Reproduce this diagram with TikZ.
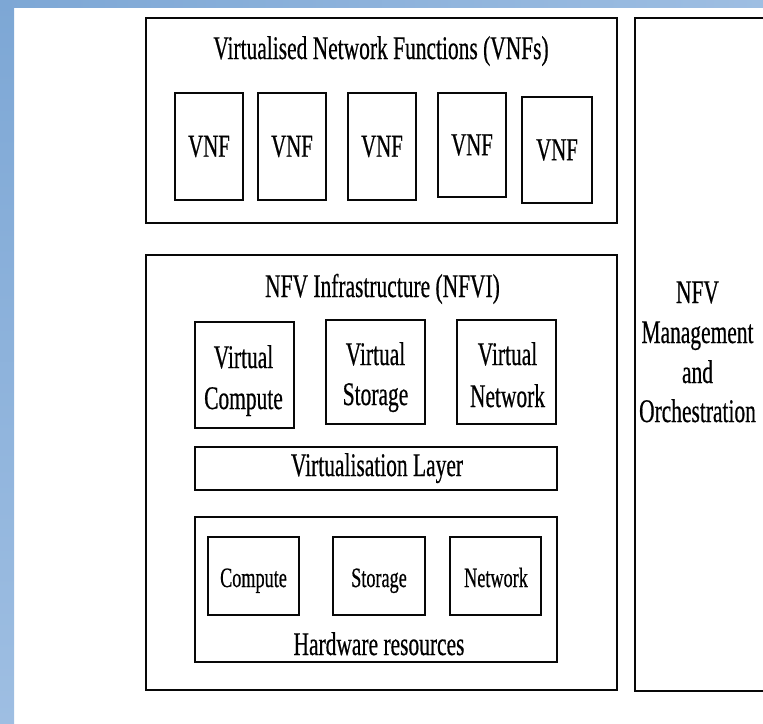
\documentclass[tikz,border=0pt]{standalone}
\usepackage{fontspec}
\setmainfont[FakeStretch=0.65,FakeBold=0.5]{Liberation Serif}
\definecolor{bgdark}{RGB}{125,167,213}
\definecolor{bglight}{RGB}{158,190,226}
\definecolor{linecol}{RGB}{8,8,8}
\begin{document}
\begin{tikzpicture}[x=1pt,y=-1pt,
  box/.style={draw=linecol, line width=2.4pt, inner sep=0pt, fill=white},
  outer/.style={box, line width=2.8pt},
  txt/.style={inner sep=0pt, anchor=base, font=\fontsize{33}{40}\selectfont},
  smalltxt/.style={txt, font=\fontsize{28}{34}\selectfont}]
\useasboundingbox (0,0) rectangle (763,723);
% background frame
\fill[top color=bgdark, bottom color=bglight] (0,0) rectangle (14,723);
\fill[left color=bgdark, right color=bglight] (0,0) rectangle (763,7);
% VNFs
\node[outer, minimum width=471pt, minimum height=205pt] (vnfs) at (381.5,120.5) {};
\node[txt] (vnfst) at (381,59) {Virtualised Network Functions (VNFs)};
\node[box, minimum width=68pt, minimum height=107pt, font=\fontsize{32}{38}\selectfont] (vnf1) at (209,146.5) {VNF};
\node[box, minimum width=68pt, minimum height=107pt, font=\fontsize{32}{38}\selectfont] (vnf2) at (292,146.5) {VNF};
\node[box, minimum width=68pt, minimum height=107pt, font=\fontsize{32}{38}\selectfont] (vnf3) at (382,146.5) {VNF};
\node[box, minimum width=68pt, minimum height=104pt, font=\fontsize{32}{38}\selectfont] (vnf4) at (472,145) {VNF};
\node[box, minimum width=70pt, minimum height=106pt, font=\fontsize{32}{38}\selectfont] (vnf5) at (557,150) {VNF};
% NFVI
\node[outer, minimum width=471pt, minimum height=435pt] (nfvi) at (381.5,472.5) {};
\node[txt] (nfvit) at (382.5,297) {NFV Infrastructure (NFVI)};
\node[box, minimum width=99pt, minimum height=106pt] (vc) at (244.5,375) {};
\node[box, minimum width=99pt, minimum height=104pt] (vs) at (375.5,372) {};
\node[box, minimum width=99pt, minimum height=104pt] (vn) at (506.5,372) {};
\node[txt] (vct1) at (243.5,368) {Virtual};
\node[txt] (vct2) at (243.5,409) {Compute};
\node[txt] (vst1) at (375.5,365) {Virtual};
\node[txt] (vst2) at (375.5,405) {Storage};
\node[txt] (vnt1) at (507.5,365) {Virtual};
\node[txt] (vnt2) at (507.5,407) {Network};
\node[box, minimum width=362pt, minimum height=43pt] (vl) at (376,468.5) {};
\node[txt] (vlt) at (377,476) {Virtualisation Layer};
\node[box, minimum width=362pt, minimum height=145pt] (hw) at (376,589.5) {};
\node[box, minimum width=91pt, minimum height=78pt] (comp) at (253.5,576) {};
\node[box, minimum width=92pt, minimum height=78pt] (stor) at (379,576) {};
\node[box, minimum width=91pt, minimum height=78pt] (netw) at (495.5,576) {};
\node[smalltxt] (compt) at (253.5,587) {Compute};
\node[smalltxt] (stort) at (379,587) {Storage};
\node[smalltxt] (netwt) at (496,587) {Network};
\node[txt] (hwt) at (379,655) {Hardware resources};
% MANO
\begin{scope}
\clip (0,0) rectangle (763,723);
\node[outer, minimum width=135pt, minimum height=673pt] (mano) at (702.5,354.5) {};
\end{scope}
\node[txt] (mano1) at (697.5,303) {NFV};
\node[txt] (mano2) at (697.5,343) {Management};
\node[txt] (mano3) at (697.5,383) {and};
\node[txt] (mano4) at (697.5,422) {Orchestration};
\end{tikzpicture}
\end{document}
